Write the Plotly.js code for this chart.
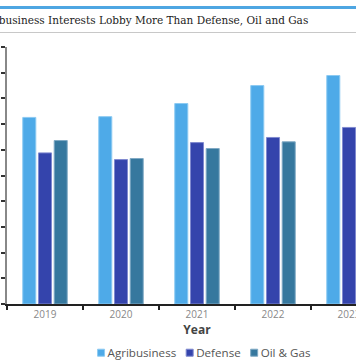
<!DOCTYPE html>
<html>
<head>
<meta charset="utf-8">
<script src="https://cdn.plot.ly/plotly-3.0.1.min.js"></script>
<style>
  html, body { margin: 0; padding: 0; width: 356px; height: 364px; overflow: hidden; background: #fff; }
  #wrap { position: absolute; left: 0; top: 0; width: 356px; height: 364px; overflow: hidden; }
  #topline { position: absolute; left: 0; top: 6px; width: 356px; height: 3px; background: #4ea6e2; z-index: 2; }
  #midline { position: absolute; left: 0; top: 32px; width: 356px; height: 1px; background: #c8c8c8; z-index: 2; }
  #chart { position: absolute; left: -60px; top: 0; width: 468px; height: 364px; }
</style>
</head>
<body>
<div id="wrap">
  <div id="chart"></div>
  <div id="topline"></div>
  <div id="midline"></div>
</div>
<script>
// Lobbying spending, millions of USD
var years = ["2019", "2020", "2021", "2022", "2023"];
var agribusiness = [145.2, 145.8, 156.0, 170.0, 177.8];
var defense = [117.6, 112.4, 125.6, 129.6, 137.4];
var oilGas = [127.2, 113.2, 121.0, 126.2, 124.0];
var yTicks = [0, 20, 40, 60, 80, 100, 120, 140, 160, 180, 200];
var yTickText = ["$0M", "$20M", "$40M", "$60M", "$80M", "$100M", "$120M", "$140M", "$160M", "$180M", "$200M"];

function bar(name, vals, color, lineColor) {
  return {
    type: "bar", name: name, x: years, y: vals,
    marker: { color: color, line: { color: lineColor, width: 1 } },
    hoverinfo: "x+y+name"
  };
}

var data = [
  bar("Agribusiness", agribusiness, "#4eaae8", "#8ccaf2"),
  bar("Defense", defense, "#3444ac", "#7f89cf"),
  bar("Oil & Gas", oilGas, "#36789e", "#7fa9c4")
];

var layout = {
  width: 468, height: 364,
  margin: { l: 67, r: 20.5, t: 46.7, b: 60, autoexpand: false },
  paper_bgcolor: "#fff", plot_bgcolor: "#fff",
  barmode: "group", bargap: 0.38, bargroupgap: 0.17,
  font: { family: "Open Sans, sans-serif", color: "#555" },
  title: {
    text: "Agribusiness Interests Lobby More Than Defense, Oil and Gas",
    font: { family: "DejaVu Serif, serif", size: 10.5, color: "#222" },
    xref: "container", x: 0.077, xanchor: "left",
    yref: "container", y: 0.945, yanchor: "middle"
  },
  xaxis: {
    type: "category", automargin: false,
    showline: true, linecolor: "#222", linewidth: 2,
    ticks: "outside", tickson: "boundaries", ticklen: 4, tickcolor: "#222", tickwidth: 2,
    tickfont: { size: 10, color: "#888" },
    showgrid: false, zeroline: false,
    title: { text: "Year", font: { size: 12, color: "#444", weight: "bold" }, standoff: 8 }
  },
  yaxis: {
    range: [0, 200], tickvals: yTicks, ticktext: yTickText, automargin: false,
    showline: true, linecolor: "#888", linewidth: 2,
    ticks: "outside", ticklen: 4, tickcolor: "#333", tickwidth: 2,
    ticklabelstandoff: 16,
    tickfont: { size: 10, color: "#888" },
    showgrid: false, zeroline: false
  },
  showlegend: true,
  legend: {
    orientation: "h", x: 0.237, xanchor: "left",
    yref: "container", y: 0.031, yanchor: "middle",
    font: { size: 11.6, color: "#555" }, traceorder: "normal"
  }
};

Plotly.newPlot("chart", data, layout, { displayModeBar: false, staticPlot: true }).then(function (gd) {
  // compact legend entries: small square swatch right next to its label
  var items = gd.querySelectorAll(".legend .traces");
  var x = null;
  items.forEach(function (g) {
    var tr = g.getAttribute("transform") || "translate(0,0)";
    var m = /translate\(([-\d.e]+)[ ,]*([-\d.e]+)?\)/.exec(tr);
    var tx = m ? parseFloat(m[1]) : 0, ty = m && m[2] ? parseFloat(m[2]) : 0;
    if (x === null) x = tx;
    g.querySelectorAll(".legendpoints path").forEach(function (p) {
      p.setAttribute("d", "M3.5,3.5H-3.5V-3.5H3.5Z");
      p.setAttribute("transform", "translate(4,0)");
    });
    var t = g.querySelector("text.legendtext");
    if (t) t.setAttribute("x", 10.5);
    g.setAttribute("transform", "translate(" + x + "," + ty + ")");
    var w = t ? t.getComputedTextLength() : 40;
    x += 10.5 + w + 9.5;
  });
});
</script>
</body>
</html>
